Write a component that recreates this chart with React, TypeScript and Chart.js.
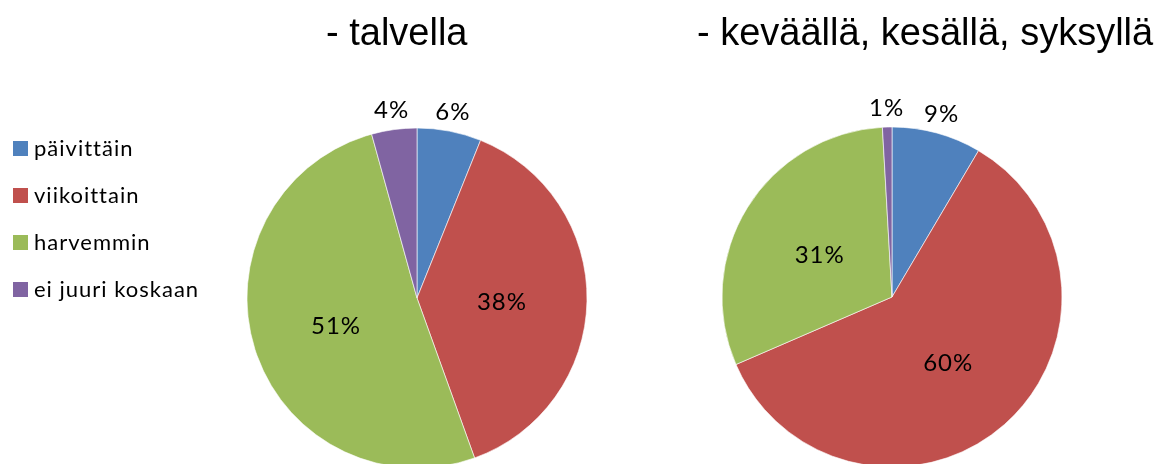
import React, { useEffect, useRef } from "react";
import { Chart, registerables } from "chart.js";

Chart.register(...registerables);

const categories = ["päivittäin", "viikoittain", "harvemmin", "ei juuri koskaan"];
const winterValues = [6.1, 38.4, 51.2, 4.3];
const otherSeasonValues = [8.5, 60.0, 30.6, 0.9];
const chartTitles = ["- talvella", "- keväällä, kesällä, syksyllä"];
const sliceColors = ["#4F81BD", "#C0504D", "#9BBB59", "#8064A2"];

const LABEL_FONT = "24px Lato, 'Open Sans', sans-serif";
const LEGEND_FONT = "22px Lato, 'Open Sans', sans-serif";
const TITLE_FONT = "38px 'Liberation Sans', Arial, sans-serif";

function makeTitlePlugin(text: string, x: number, y: number) {
  return {
    id: "titleText",
    afterDraw(chart: any) {
      const ctx = chart.ctx;
      ctx.save();
      ctx.font = TITLE_FONT;
      ctx.fillStyle = "#000";
      ctx.textAlign = "left";
      ctx.textBaseline = "alphabetic";
      ctx.fillText(text, x, y);
      ctx.restore();
    },
  };
}

const sliceLabelPlugin = {
  id: "sliceLabels",
  afterDatasetsDraw(chart: any) {
    const ctx = chart.ctx;
    const meta = chart.getDatasetMeta(0);
    const data = chart.data.datasets[0].data as number[];
    const total = data.reduce((a: number, b: number) => a + b, 0);
    ctx.save();
    ctx.font = LABEL_FONT;
    (ctx as any).letterSpacing = "1px";
    ctx.fillStyle = "#000";
    ctx.textAlign = "center";
    ctx.textBaseline = "middle";
    meta.data.forEach((arc: any, i: number) => {
      const p = arc.getProps(["x", "y", "startAngle", "endAngle", "outerRadius"], true);
      const mid = (p.startAngle + p.endAngle) / 2;
      const share = data[i] / total;
      const outside = share < 0.1;
      const d = outside ? p.outerRadius + 18 : p.outerRadius / 2;
      const lx = p.x + Math.cos(mid) * d;
      const ly = p.y + Math.sin(mid) * d + (outside ? -1 : 3);
      ctx.fillText(Math.round(share * 100) + "%", lx, ly);
    });
    ctx.restore();
  },
};

const legendPlugin = {
  id: "customLegend",
  afterDraw(chart: any) {
    const ctx = chart.ctx;
    const labels = chart.data.labels as string[];
    const colors = chart.data.datasets[0].backgroundColor as string[];
    ctx.save();
    ctx.font = LEGEND_FONT;
    (ctx as any).letterSpacing = "1px";
    ctx.textAlign = "left";
    ctx.textBaseline = "middle";
    labels.forEach((lab, i) => {
      const cy = 149 + i * 47;
      ctx.fillStyle = colors[i];
      ctx.fillRect(13, cy - 8, 15, 15);
      ctx.fillStyle = "#000";
      ctx.fillText(lab, 34, cy);
    });
    ctx.restore();
  },
};

function PieCanvas(props: {
  values: number[];
  title: string;
  titleX: number;
  left: number;
  width: number;
  padding: { left: number; right: number; top: number; bottom: number };
  legend: boolean;
}) {
  const ref = useRef<HTMLCanvasElement | null>(null);
  useEffect(() => {
    if (!ref.current) return;
    const plugins: any[] = [sliceLabelPlugin, makeTitlePlugin(props.title, props.titleX, 45)];
    if (props.legend) plugins.push(legendPlugin);
    const chart = new Chart(ref.current, {
      type: "pie",
      data: {
        labels: categories,
        datasets: [
          {
            data: props.values,
            backgroundColor: sliceColors,
            borderColor: "rgba(255,255,255,0.6)",
            borderWidth: 1,
            radius: 170,
          } as any,
        ],
      },
      options: {
        responsive: false,
        animation: false,
        events: [],
        layout: { padding: props.padding },
        plugins: {
          legend: { display: false },
          tooltip: { enabled: false },
          title: { display: false },
        },
      },
      plugins,
    });
    return () => chart.destroy();
  }, []);
  return (
    <canvas
      ref={ref}
      width={props.width}
      height={480}
      style={{ position: "absolute", left: props.left, top: 0, width: props.width, height: 480 }}
    />
  );
}

export default function App() {
  return (
    <div
      style={{
        position: "absolute",
        left: 0,
        top: 0,
        width: 1162,
        height: 464,
        overflow: "hidden",
        background: "#fff",
      }}
    >
      <PieCanvas
        values={winterValues}
        title={chartTitles[0]}
        titleX={326}
        left={0}
        width={650}
        padding={{ left: 247, right: 63, top: 128, bottom: 12 }}
        legend={true}
      />
      <PieCanvas
        values={otherSeasonValues}
        title={chartTitles[1]}
        titleX={47}
        left={650}
        width={512}
        padding={{ left: 72, right: 100, top: 127, bottom: 13 }}
        legend={false}
      />
    </div>
  );
}
